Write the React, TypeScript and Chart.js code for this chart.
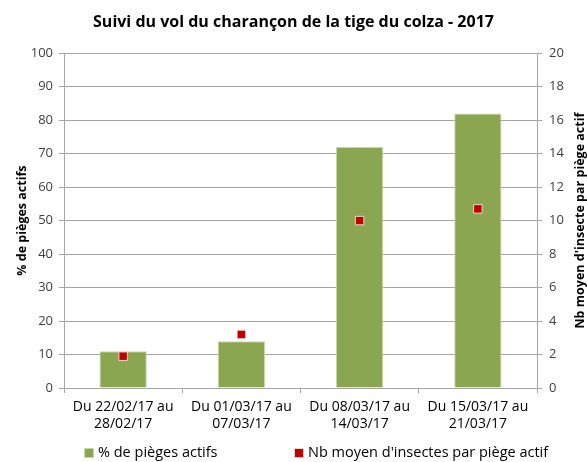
import React, { useEffect, useRef } from "react";
import { Chart, registerables } from "chart.js";

Chart.register(...registerables);

const categories: string[][] = [
  ["Du 22/02/17 au", "28/02/17"],
  ["Du 01/03/17 au", "07/03/17"],
  ["Du 08/03/17 au", "14/03/17"],
  ["Du 15/03/17 au", "21/03/17"],
];
const pctPieges: number[] = [11, 14, 72, 82];
const nbInsectes: number[] = [1.9, 3.2, 10.0, 10.7];

const FONT = "'Open Sans', 'Liberation Sans', sans-serif";
const GREEN = "#8BA650";
const RED = "#C00000";
const GRID = "#A6A6A6";
const RIGHT_TITLE = "Nb moyen d'insecte par piège actif";

const extras = {
  id: "extras",
  afterDraw(chart: any) {
    const ctx = chart.ctx as CanvasRenderingContext2D;
    const area = chart.chartArea;
    ctx.save();
    // right axis title, rotated like the left one
    ctx.font = `bold 12.5px ${FONT}`;
    ctx.fillStyle = "#000";
    ctx.textAlign = "center";
    ctx.textBaseline = "middle";
    ctx.translate(chart.width - 7, (area.top + area.bottom) / 2);
    ctx.rotate(-Math.PI / 2);
    ctx.fillText(RIGHT_TITLE, 0, 0);
    ctx.restore();

    // legend
    ctx.save();
    ctx.font = `14.5px ${FONT}`;
    ctx.textBaseline = "middle";
    ctx.textAlign = "left";
    const y = chart.height - 9;
    const items = chart.data.datasets.map((d: any, i: number) => ({
      text: d.label as string,
      fill: i === 0 ? GREEN : RED,
      stroke: i === 0 ? "#C8D8A8" : "#E8D8C8",
    }));
    const starts = [85, 295];
    items.forEach((it: any, i: number) => {
      const x = starts[i];
      ctx.fillStyle = it.fill;
      ctx.strokeStyle = it.stroke;
      ctx.lineWidth = 1;
      ctx.fillRect(x, y - 4, 8, 8);
      ctx.strokeRect(x - 0.5, y - 4.5, 9, 9);
      ctx.fillStyle = "#000";
      ctx.fillText(it.text, x + 13, y);
    });
    ctx.restore();
  },
};

export default function App() {
  const ref = useRef<HTMLCanvasElement>(null);
  useEffect(() => {
    document.body.style.margin = "0";
    const ctx = ref.current!;
    const chart = new Chart(ctx, {
      type: "bar",
      data: {
        labels: categories,
        datasets: [
          {
            type: "bar",
            label: "% de pièges actifs",
            data: pctPieges,
            backgroundColor: GREEN,
            borderColor: "#C8D8A8",
            borderWidth: 1,
            barPercentage: 0.4,
            categoryPercentage: 1,
            yAxisID: "y",
            order: 2,
          },
          {
            type: "line",
            label: "Nb moyen d'insectes par piège actif",
            data: nbInsectes,
            showLine: false,
            pointStyle: "rect",
            pointRadius: 6,
            backgroundColor: RED,
            borderColor: "#E8D8C8",
            borderWidth: 1,
            yAxisID: "y2",
            order: 1,
          } as any,
        ],
      },
      options: {
        responsive: false,
        animation: false,
        layout: { padding: { left: 0, right: 0, top: 0, bottom: 30 } },
        plugins: {
          title: {
            display: true,
            text: "Suivi du vol du charançon de la tige du colza - 2017",
            font: { family: FONT, size: 16, weight: "bold" },
            color: "#000",
            padding: { top: 13, bottom: 21 },
          },
          legend: { display: false },
          tooltip: { enabled: false },
        },
        scales: {
          x: {
            afterFit: (s: any) => {
              s.height = 44;
            },
            grid: {
              display: true,
              drawOnChartArea: false,
              drawTicks: true,
              tickLength: 5,
              color: GRID,
              offset: true,
            },
            border: { color: GRID },
            ticks: {
              font: { family: FONT, size: 14 },
              color: "#000",
              maxRotation: 0,
              padding: 6,
            },
          },
          y: {
            position: "left",
            min: 0,
            max: 100,
            afterFit: (s: any) => {
              s.width = 64;
            },
            ticks: {
              stepSize: 10,
              font: { family: FONT, size: 13 },
              color: "#404040",
              padding: 6,
            },
            grid: { color: GRID, tickLength: 5 },
            border: { color: GRID },
            title: {
              display: true,
              text: "% de pièges actifs",
              font: { family: FONT, size: 12.5, weight: "bold" },
              color: "#000",
              padding: { top: 15, bottom: 0 },
            },
          },
          y2: {
            position: "right",
            min: 0,
            max: 20,
            afterFit: (s: any) => {
              s.width = 50;
            },
            ticks: {
              stepSize: 2,
              font: { family: FONT, size: 13 },
              color: "#404040",
              padding: 7,
            },
            grid: { drawOnChartArea: false, color: GRID, tickLength: 5 },
            border: { color: GRID },
          },
        },
      },
      plugins: [extras],
    });
    return () => chart.destroy();
  }, []);
  return <canvas ref={ref} width={587} height={462} />;
}
